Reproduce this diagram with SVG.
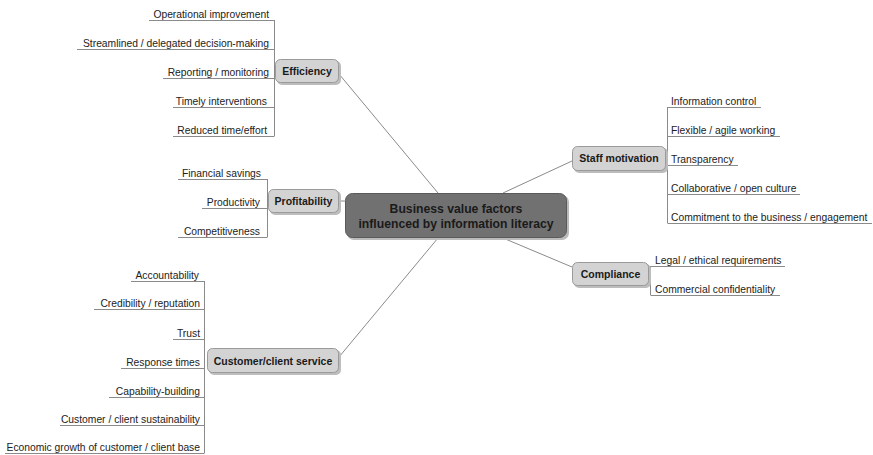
<svg xmlns="http://www.w3.org/2000/svg" width="873" height="455" viewBox="0 0 873 455">
<defs>
<style>
.leaf{font-family:"Liberation Sans",Arial,sans-serif;font-size:10.3px;fill:#222}
.nt{font-family:"Liberation Sans",Arial,sans-serif;font-size:10.5px;font-weight:bold;fill:#1a1a1a;text-anchor:middle}
.ct{font-family:"Liberation Sans",Arial,sans-serif;font-size:12.2px;font-weight:bold;fill:#1a1a1a;text-anchor:middle}
.node{fill:#d3d3d3;stroke:#9a9a9a;stroke-width:1}
.shadow{fill:#bdbdbd}
.ln{stroke:#8a8a8a;stroke-width:1;fill:none}
.r{text-anchor:end}
</style>
</defs>
<rect width="873" height="455" fill="#fff"/>
<g id="connectors">
<line class="ln" x1="339" y1="74" x2="438" y2="193"/>
<line class="ln" x1="339" y1="201" x2="345" y2="201"/>
<line class="ln" x1="503" y1="193" x2="572" y2="161"/>
<line class="ln" x1="503" y1="238" x2="572" y2="267"/>
<line class="ln" x1="438" y1="238" x2="339" y2="357"/>
<!-- efficiency leaves -->
<path class="ln" d="M274.5 20V136M149 20.5H274.5M77 49.5H274.5M163 78.5H274.5M173 107.5H274.5M173 136.5H274.5"/>
<!-- profitability leaves -->
<path class="ln" d="M267.5 179V237M178 179.5H267.5M202 208.5H267.5M178 237.5H267.5"/>
<!-- staff leaves -->
<path class="ln" d="M667.5 107V223M667.5 107.5H761M667.5 136.5H780M667.5 165.5H738M667.5 194.5H800M667.5 223.5H872"/>
<!-- compliance leaves -->
<path class="ln" d="M650.5 266V295M650.5 266.5H785M650.5 295.5H780"/>
<!-- customer leaves -->
<path class="ln" d="M204.5 281V453M131 281.5H204.5M94 309.5H204.5M173 339.5H204.5M121 368.5H204.5M109 397.5H204.5M60 425.5H204.5M5 453.5H204.5"/>
</g>
<g id="central">
<rect x="347" y="195" width="222" height="45" rx="7" fill="#bbb"/>
<rect x="345.5" y="193.5" width="221" height="44" rx="7" fill="#717171" stroke="#5a5a5a"/>
<text class="ct" x="456" y="213">Business value factors</text>
<text class="ct" x="456" y="227.5">influenced by information literacy</text>
</g>
<g id="efficiency">
<rect class="shadow" x="277" y="61" width="64" height="24" rx="5"/>
<rect class="node" x="275.5" y="59.5" width="63" height="23" rx="5"/>
<text class="nt" x="307" y="75">Efficiency</text>
<text class="leaf r" x="269" y="18">Operational improvement</text>
<text class="leaf r" x="269" y="47">Streamlined / delegated decision-making</text>
<text class="leaf r" x="269" y="76">Reporting / monitoring</text>
<text class="leaf r" x="267" y="105">Timely interventions</text>
<text class="leaf r" x="267" y="134">Reduced time/effort</text>
</g>
<g id="profitability">
<rect class="shadow" x="270" y="191" width="71" height="24" rx="5"/>
<rect class="node" x="268.5" y="189.5" width="70" height="23" rx="5"/>
<text class="nt" x="303.5" y="205">Profitability</text>
<text class="leaf r" x="261" y="177">Financial savings</text>
<text class="leaf r" x="260" y="206">Productivity</text>
<text class="leaf r" x="260" y="235">Competitiveness</text>
</g>
<g id="staff">
<rect class="shadow" x="574" y="148" width="94" height="25" rx="5"/>
<rect class="node" x="572.5" y="146.5" width="93" height="24" rx="5"/>
<text class="nt" x="619" y="162">Staff motivation</text>
<text class="leaf" x="671" y="105">Information control</text>
<text class="leaf" x="671" y="134">Flexible / agile working</text>
<text class="leaf" x="671" y="163">Transparency</text>
<text class="leaf" x="671" y="192">Collaborative / open culture</text>
<text class="leaf" x="671" y="221">Commitment to the business / engagement</text>
</g>
<g id="compliance">
<rect class="shadow" x="574" y="264" width="77" height="24" rx="5"/>
<rect class="node" x="572.5" y="262.5" width="76" height="23" rx="5"/>
<text class="nt" x="610.5" y="278">Compliance</text>
<text class="leaf" x="655" y="264">Legal / ethical requirements</text>
<text class="leaf" x="655" y="293">Commercial confidentiality</text>
</g>
<g id="customer">
<rect class="shadow" x="209" y="350" width="132" height="25" rx="5"/>
<rect class="node" x="207.5" y="348.5" width="131" height="24" rx="5"/>
<text class="nt" x="273" y="364.5">Customer/client service</text>
<text class="leaf r" x="199" y="279">Accountability</text>
<text class="leaf r" x="200" y="307">Credibility / reputation</text>
<text class="leaf r" x="200" y="337">Trust</text>
<text class="leaf r" x="200" y="366">Response times</text>
<text class="leaf r" x="200" y="395">Capability-building</text>
<text class="leaf r" x="200" y="423">Customer / client sustainability</text>
<text class="leaf r" x="200" y="451">Economic growth of customer / client base</text>
</g>
</svg>
